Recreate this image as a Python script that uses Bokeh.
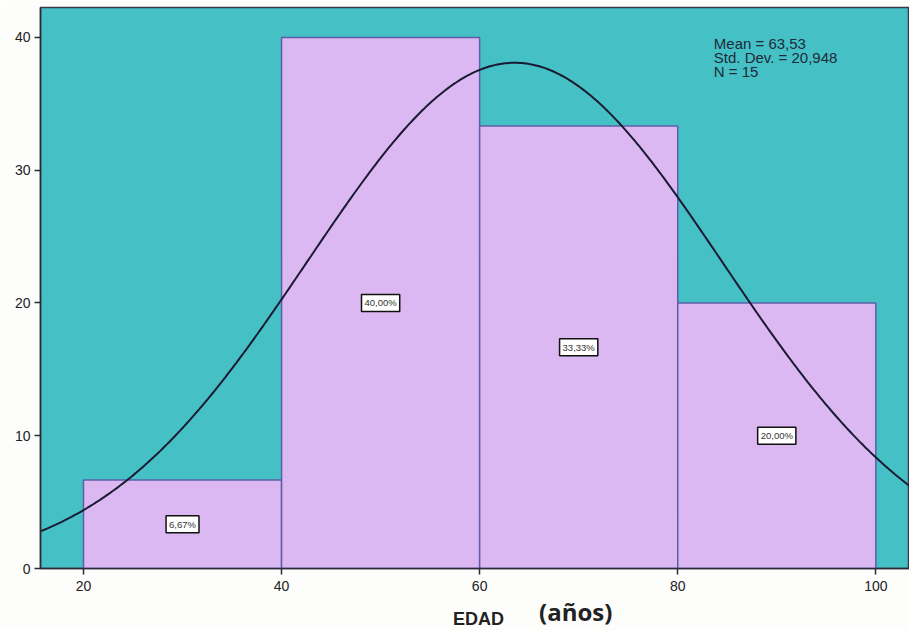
import numpy as np
from bokeh.plotting import figure
from bokeh.models import Label, Range1d, FixedTicker, Div
from bokeh.layouts import column
from bokeh.embed import file_html
from bokeh.resources import INLINE

# Age histogram (percent per 20-year bin)
bin_left = [20, 40, 60, 80]
bin_right = [40, 60, 80, 100]
percent = [6.67, 40.00, 33.33, 20.00]
percent_labels = ["6,67%", "40,00%", "33,33%", "20,00%"]

# Summary statistics
mean_age = 63.53
std_age = 20.948
n_obs = 15
stats_text = "Mean = 63,53\nStd. Dev. = 20,948\nN = 15"

x_ticks = [20, 40, 60, 80, 100]
y_ticks = [0, 10, 20, 30, 40]

p = figure(width=909, height=598, output_backend="svg", toolbar_location=None,
           x_range=Range1d(15.66, 103.4), y_range=Range1d(0, 42.25),
           min_border_left=40, min_border_right=0, min_border_top=7,
           min_border_bottom=30, margin=0)
p.background_fill_color = "#45c1c5"
p.border_fill_color = "#fdfdfb"
p.outline_line_color = "#3a3a4a"
p.outline_line_width = 1.5
p.xgrid.visible = False
p.ygrid.visible = False

p.quad(left=bin_left, right=bin_right, bottom=0, top=percent,
       fill_color="#dbb8f1", line_color="#5c5fa8", line_width=1.5)

# Normal curve scaled to percent per bin width
bw = 20
xs = np.linspace(15.66, 103.4, 400)
ys = 100 * bw * np.exp(-0.5 * ((xs - mean_age) / std_age) ** 2) / (std_age * np.sqrt(2 * np.pi))
p.line(xs, ys, line_color="#1a1a33", line_width=2)

for l, r, v, t in zip(bin_left, bin_right, percent, percent_labels):
    p.add_layout(Label(x=(l + r) / 2, y=v / 2, text=t, text_align="center",
                       text_baseline="middle", text_font_size="9.5px",
                       text_font="Liberation Sans", text_color="#333333",
                       background_fill_color="white", border_line_color="#111111",
                       border_line_width=1.5, padding=3))

p.add_layout(Label(x=83.64, y=40.2, text=stats_text, text_align="left",
                   text_baseline="top", text_font_size="15px",
                   text_font="Liberation Sans", text_color="#1e2a3a",
                   text_line_height=0.82))

for ax in (p.xaxis, p.yaxis):
    ax.major_label_text_font = "Liberation Sans"
    ax.major_label_text_font_size = "14px"
    ax.major_label_text_color = "#222222"
    ax.major_tick_line_color = "#2a2a3a"
    ax.major_tick_line_width = 1.5
    ax.major_tick_in = 0
    ax.major_tick_out = 6
    ax.minor_tick_line_color = None
    ax.axis_line_color = "#2a2a3a"
    ax.axis_line_width = 1.5

p.xaxis.ticker = FixedTicker(ticks=x_ticks)
p.yaxis.ticker = FixedTicker(ticks=y_ticks)
p.xaxis.major_label_standoff = 6
p.yaxis.major_label_standoff = 4

# x-axis title in two parts with different fonts
axis_title = Div(
    text=(
        '<div style="position:relative;width:909px;height:32px;">'
        '<span style="position:absolute;left:453px;top:12px;line-height:1;'
        'font-family:\'Liberation Sans\';font-weight:bold;font-size:18px;color:#222;">EDAD</span>'
        '<span style="position:absolute;left:539px;top:2px;line-height:1;'
        'font-family:\'Open Sans\';font-weight:bold;font-size:24px;color:#222;">(años)</span>'
        '</div>'
    ),
    width=909, height=32, margin=0,
    styles={"background-color": "#fdfdfb"},
)

layout = column(p, axis_title, spacing=0, margin=0)
open("out.html", "w").write(file_html(layout, INLINE))
